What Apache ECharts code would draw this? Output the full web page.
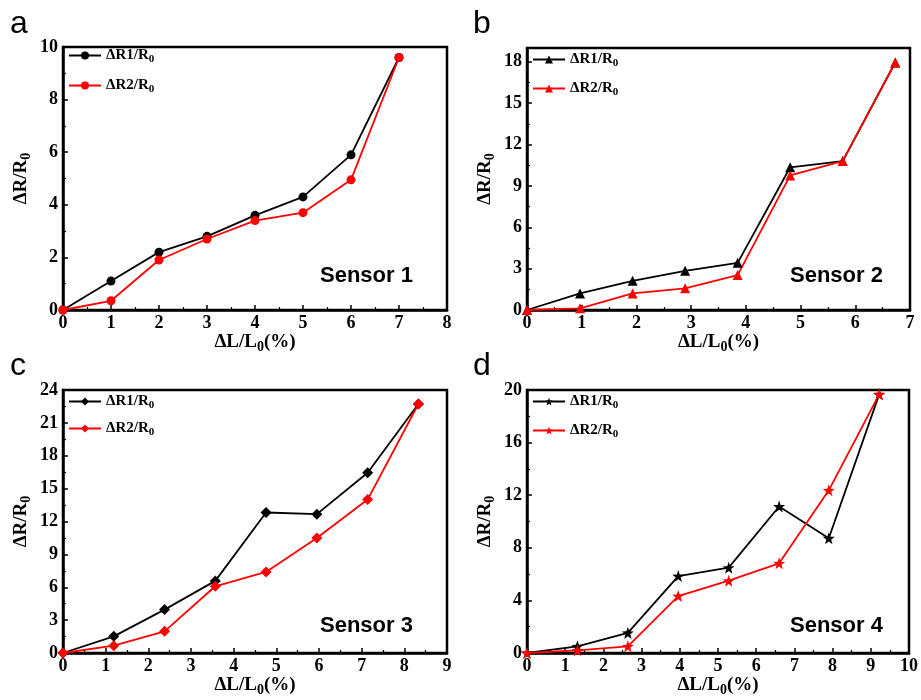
<!DOCTYPE html>
<html><head><meta charset="utf-8">
<script src="https://cdn.jsdelivr.net/npm/echarts@6/dist/echarts.min.js"></script>
<style>html,body{margin:0;padding:0;background:#fff}#c{width:921px;height:700px}</style>
</head><body><div id="c"></div>
<script>
// Panel a (Sensor 1)
const xA = [0, 1, 2, 3, 4, 5, 6, 7];
const yA1 = [0, 1.1, 2.2, 2.8, 3.6, 4.3, 5.9, 9.6];
const yA2 = [0, 0.35, 1.9, 2.7, 3.4, 3.7, 4.95, 9.6];
// Panel b (Sensor 2)
const xB = [0, 0.97, 1.93, 2.89, 3.85, 4.81, 5.77, 6.73];
const yB1 = [0, 1.2, 2.12, 2.84, 3.42, 10.35, 10.8, 17.95];
const yB2 = [0, 0.12, 1.2, 1.57, 2.53, 9.76, 10.8, 17.95];
// Panel c (Sensor 3)
const xC = [0, 1.19, 2.38, 3.57, 4.76, 5.95, 7.14, 8.33];
const yC1 = [0, 1.52, 3.96, 6.58, 12.82, 12.67, 16.45, 22.72];
const yC2 = [0, 0.67, 1.98, 6.09, 7.4, 10.5, 14.0, 22.72];
// Panel d (Sensor 4)
const xD = [0, 1.32, 2.64, 3.96, 5.28, 6.6, 7.9, 9.22];
const yD1 = [0, 0.51, 1.53, 5.85, 6.49, 11.14, 8.73, 19.67];
const yD2 = [0, 0.2, 0.51, 4.33, 5.5, 6.82, 12.37, 19.67];

const panelLetters = ['a', 'b', 'c', 'd'];
const sensorLabels = ['Sensor 1', 'Sensor 2', 'Sensor 3', 'Sensor 4'];
const xMax = [8, 7, 9, 10];
const yMax = [10, 19, 24, 20];
const yInterval = [2, 3, 3, 4];

const STAR = 'path://M0,-10 L2.35,-3.24 L9.51,-3.09 L3.8,1.24 L5.88,8.09 L0,4 L-5.88,8.09 L-3.8,1.24 L-9.51,-3.09 L-2.35,-3.24Z';
const symbols = ['circle', 'triangle', 'diamond', STAR];
const symSizes = [9, 10, 11, 12];

const xs = [xA, xB, xC, xD];
const ys1 = [yA1, yB1, yC1, yD1];
const ys2 = [yA2, yB2, yC2, yD2];

const grids = [
  {left: 63, top: 47, width: 384, height: 263},
  {left: 527, top: 48, width: 383, height: 262},
  {left: 63, top: 390, width: 384, height: 263},
  {left: 527, top: 390, width: 383, height: 263}
];
const legendPos = [
  {left: 68, top: 48, gap: 13},
  {left: 532, top: 52, gap: 12},
  {left: 68, top: 394, gap: 10},
  {left: 532, top: 394, gap: 12}
];
const letterPos = [[10, 8], [473, 8], [10, 350], [473, 350]];
const sensorPos = [[320, 265], [790, 265], [320, 615], [790, 615]];

const serif = 'Liberation Serif';
const richSub = {
  b: {fontFamily: serif, fontWeight: 'bold', fontSize: 19, color: '#000'},
  s: {fontFamily: serif, fontWeight: 'bold', fontSize: 14, color: '#000', padding: [9, 0, 0, 0]}
};
const richLeg = {
  b: {fontFamily: serif, fontWeight: 'bold', fontSize: 15, color: '#000'},
  s: {fontFamily: serif, fontWeight: 'bold', fontSize: 11, color: '#000', padding: [8, 0, 0, 0]}
};

const option = {
  animation: false,
  backgroundColor: '#fff',
  grid: grids.map(g => Object.assign({show: true, borderColor: '#000', borderWidth: 2.5, backgroundColor: 'transparent'}, g)),
  xAxis: grids.map((g, i) => ({
    type: 'value', gridIndex: i, min: 0, max: xMax[i], interval: 1,
    name: '{b|ΔL/L}{s|0}{b|(%)}', nameLocation: 'middle', nameGap: 20,
    nameTextStyle: {rich: richSub},
    axisLine: {show: true, onZero: false, lineStyle: {color: '#000', width: 2.5}},
    axisTick: {show: true, inside: true, length: 5, lineStyle: {color: '#000', width: 1.5}},
    minorTick: {show: true, splitNumber: 2, length: 3, lineStyle: {color: '#000', width: 1.2}},
    splitLine: {show: false},
    axisLabel: {margin: 4, color: '#000', fontFamily: serif, fontWeight: 'bold', fontSize: 18}
  })),
  yAxis: grids.map((g, i) => ({
    type: 'value', gridIndex: i, min: 0, max: yMax[i], interval: yInterval[i],
    name: '{b|ΔR/R}{s|0}', nameLocation: 'middle', nameGap: 30, nameRotate: 90,
    nameTextStyle: {rich: richSub},
    axisLine: {show: true, onZero: false, lineStyle: {color: '#000', width: 2.5}},
    axisTick: {show: true, inside: true, length: 5, lineStyle: {color: '#000', width: 1.5}},
    minorTick: {show: true, splitNumber: 2, length: 3, lineStyle: {color: '#000', width: 1.2}},
    splitLine: {show: false},
    axisLabel: {margin: 5, color: '#000', fontFamily: serif, fontWeight: 'bold', fontSize: 18,
      showMaxLabel: yMax[i] % yInterval[i] === 0}
  })),
  legend: grids.map((g, i) => ({
    orient: 'vertical', left: legendPos[i].left, top: legendPos[i].top, padding: 0,
    itemWidth: 32, itemHeight: 10, itemGap: legendPos[i].gap,
    data: ['p' + i + '_1', 'p' + i + '_2'],
    formatter: n => n.endsWith('_1') ? '{b|ΔR1/R}{s|0}' : '{b|ΔR2/R}{s|0}',
    textStyle: {rich: richLeg},
    selectedMode: false
  })),
  series: [],
  graphic: []
};

for (let i = 0; i < 4; i++) {
  const pairs1 = xs[i].map((x, k) => [x, ys1[i][k]]);
  const pairs2 = xs[i].map((x, k) => [x, ys2[i][k]]);
  [[pairs1, '#000', '_1'], [pairs2, '#ff0000', '_2']].forEach(([d, col, suf]) => {
    option.series.push({
      type: 'line', name: 'p' + i + suf, xAxisIndex: i, yAxisIndex: i, data: d,
      symbol: symbols[i], symbolSize: symSizes[i], showSymbol: true,
      lineStyle: {color: col, width: 1.8},
      itemStyle: {color: col, borderColor: col, borderWidth: 0},
      emphasis: {disabled: true}
    });
  });
  option.graphic.push({
    type: 'text', left: letterPos[i][0], top: letterPos[i][1],
    style: {text: panelLetters[i], font: '32px "Liberation Sans"', fill: '#000'}
  });
  option.graphic.push({
    type: 'text', left: sensorPos[i][0], top: sensorPos[i][1],
    style: {text: sensorLabels[i], font: 'bold 22px "Liberation Sans"', fill: '#000'}
  });
}

const chart = echarts.init(document.getElementById('c'), null, {renderer: 'canvas'});
chart.setOption(option);
</script>
</body></html>
